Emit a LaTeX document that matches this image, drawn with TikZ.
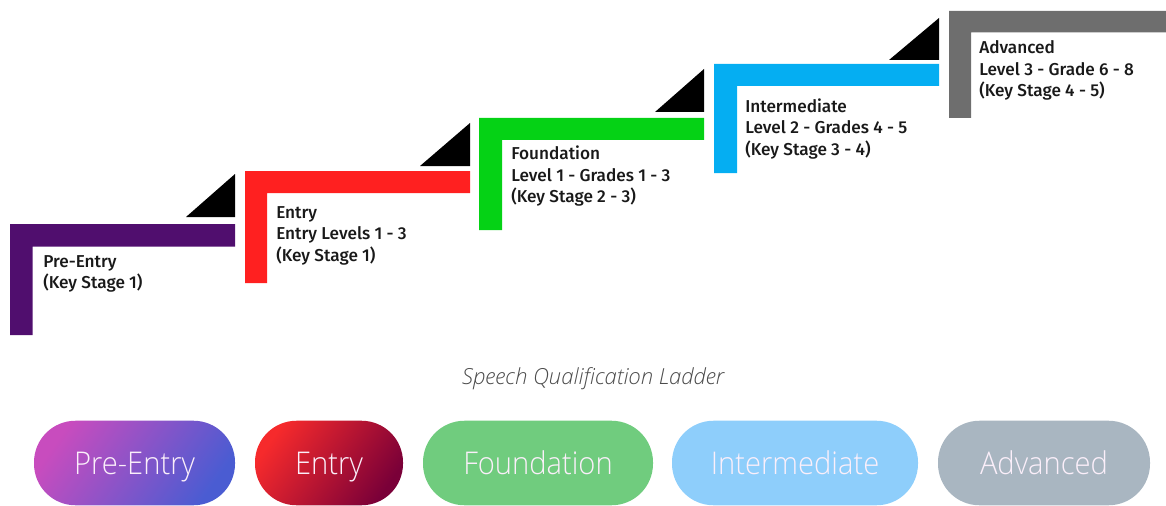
\documentclass[tikz,border=0pt]{standalone}
\usepackage{fontspec}
\setmainfont{Open Sans}
\newfontfamily\pillfont[FakeStretch=0.93]{Open Sans Light}
\newfontfamily\labelfont{Fira Sans Medium}
\newfontfamily\capfont{Open Sans Light Italic}
\definecolor{cpurple}{HTML}{500E6E}
\definecolor{cred}{HTML}{FF2020}
\definecolor{cgreen}{HTML}{05D215}
\definecolor{cblue}{HTML}{05AEF2}
\definecolor{cgray}{HTML}{6E6E6E}
\definecolor{ptext}{HTML}{FBEFFA}
\definecolor{cpa}{HTML}{C84CBE}
\definecolor{cpb}{HTML}{4A5CD2}
\definecolor{cea}{HTML}{F62A2C}
\definecolor{ceb}{HTML}{7A0038}
\definecolor{cf}{HTML}{70CC7E}
\definecolor{ci}{HTML}{8ECEFB}
\definecolor{ca}{HTML}{A9B6C1}
\tikzset{x=0.75pt,y=-0.75pt,
  steplabel/.style={anchor=north west,inner sep=0pt,align=left,font=\labelfont\fontsize{12.9}{16.1}\selectfont,text=black!90},
  pill/.style={rounded corners=41.5*0.75pt,minimum height=63.4pt,inner sep=0pt,text=ptext,font=\pillfont\fontsize{23.5}{26}\selectfont,anchor=center,text height=21.5pt,text depth=5pt},
  wedge/.style={fill=black}}
\newcommand{\lstep}[7]{%
  \fill[#7] (#1,#2) -- (#3,#2) -- (#3,#4) -- (#5,#4) -- (#5,#6) -- (#1,#6) -- cycle;}
\begin{document}
\begin{tikzpicture}
\useasboundingbox (0,0) rectangle (1166,506);
\lstep{10}{224}{235}{246.5}{32.5}{335}{cpurple}
\lstep{245}{171}{470}{193}{267}{283}{cred}
\lstep{479}{118}{704}{140}{502}{230}{cgreen}
\lstep{714}{64}{939}{86}{737}{173}{cblue}
\lstep{949}{11}{1166}{32.5}{971}{118}{cgray}
\fill[wedge] (186,217) -- (235,217) -- (235,174) -- cycle;
\fill[wedge] (420,166) -- (470,166) -- (470,123) -- cycle;
\fill[wedge] (655,112) -- (704,112) -- (704,69) -- cycle;
\fill[wedge] (889,60) -- (939,60) -- (939,18) -- cycle;
\node[steplabel] (l1) at (43,255) {Pre-Entry\\(Key Stage 1)};
\node[steplabel] (l2) at (276,206) {Entry\\Entry Levels 1 - 3\\(Key Stage 1)};
\node[steplabel] (l3) at (511,146) {Foundation\\Level 1 - Grades 1 - 3\\(Key Stage 2 - 3)};
\node[steplabel] (l4) at (745,98.5) {Intermediate\\Level 2 - Grades 4 - 5\\(Key Stage 3 - 4)};
\node[steplabel] (l5) at (979,40.5) {Advanced\\Level 3 - Grade 6 - 8\\(Key Stage 4 - 5)};
\node[font=\capfont\fontsize{16.6}{18}\selectfont,text=black!70,inner sep=0pt] (cap) at (593,379) {Speech Qualification Ladder};
\node[pill,minimum width=150.75pt,left color=cpa,right color=cpb,shading angle=55] (p1) at (134.5,463) {Pre-Entry};
\node[pill,minimum width=111pt,left color=cea,right color=ceb,shading angle=55] (p2) at (329,463) {Entry};
\node[pill,minimum width=172.5pt,fill=cf] (p3) at (538,463) {Foundation};
\node[pill,minimum width=184.5pt,fill=ci] (p4) at (795,463) {Intermediate};
\node[pill,minimum width=159pt,fill=ca] (p5) at (1044,463) {Advanced};
\end{tikzpicture}
\end{document}
